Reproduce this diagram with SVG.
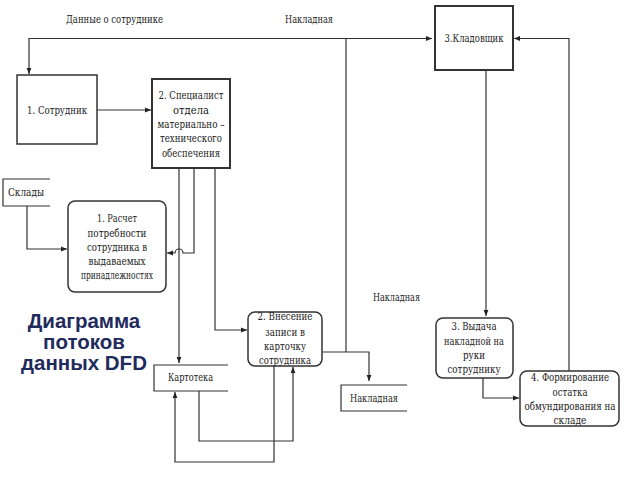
<svg xmlns="http://www.w3.org/2000/svg" width="640" height="480" viewBox="0 0 640 480">
<defs>
<marker id="arr" viewBox="0 0 10 10" refX="10" refY="5" markerWidth="6" markerHeight="6" orient="auto" markerUnits="userSpaceOnUse">
<path d="M0,1 L10,5 L0,9 z" fill="#222"/>
</marker>
<style>
.box{fill:#fff;stroke:#333;stroke-width:1.5}
.ln{fill:none;stroke:#333;stroke-width:1.2}
.t{font-size:11px;fill:#222;text-anchor:middle}
.tl{font-size:11px;fill:#222}
.title{font-size:20.5px;font-weight:bold;fill:#1f2b5c;text-anchor:middle}
</style>
</defs>
<rect width="640" height="480" fill="#fff"/>

<g id="connectors">
<path class="ln" d="M432,38.5 H29 V74" marker-end="url(#arr)"/>
<path class="ln" d="M346,38.5 H432" marker-end="url(#arr)"/>
<path class="ln" d="M97,110 H151" marker-end="url(#arr)"/>
<path class="ln" d="M569,371 V38.5 H514" marker-end="url(#arr)"/>
<path class="ln" d="M486,70 V316" marker-end="url(#arr)"/>
<path class="ln" d="M483,378 V398 H519" marker-end="url(#arr)"/>
<path class="ln" d="M346,38.5 V352"/>
<path class="ln" d="M322,352 H369 V381" marker-end="url(#arr)"/>
<path class="ln" d="M27,206 V249 H67" marker-end="url(#arr)"/>
<path class="ln" d="M194,168 V253 H183 A4,4 0 0 0 175,253 H167" marker-end="url(#arr)"/>
<path class="ln" d="M179,168 V363" marker-end="url(#arr)"/>
<path class="ln" d="M215,168 V330 H247" marker-end="url(#arr)"/>
<path class="ln" d="M199,391 V441 H293 V367" marker-end="url(#arr)"/>
<path class="ln" d="M274,366 V462 H175 V392" marker-end="url(#arr)"/>
</g>

<g font-family="'DejaVu Serif Condensed', 'DejaVu Serif', serif">
<g id="lbl-data"><text class="tl" x="66" y="23" textLength="97" lengthAdjust="spacingAndGlyphs">Данные о сотруднике</text></g>
<g id="lbl-nakl1"><text class="tl" x="285" y="23" textLength="48" lengthAdjust="spacingAndGlyphs">Накладная</text></g>
<g id="lbl-nakl2"><text class="tl" x="373" y="301" textLength="47" lengthAdjust="spacingAndGlyphs">Накладная</text></g>

<g id="n-sotrudnik">
<rect class="box" x="17" y="75" width="80" height="69"/>
<text class="t" x="57" y="114" textLength="60" lengthAdjust="spacingAndGlyphs">1. Сотрудник</text>
</g>

<g id="n-specialist">
<rect class="box" x="152" y="79" width="78" height="89" style="stroke-width:2"/>
<text class="t" x="191" y="99" textLength="65" lengthAdjust="spacingAndGlyphs">2. Специалист</text>
<text class="t" x="191" y="114" textLength="36" lengthAdjust="spacingAndGlyphs">отдела</text>
<text class="t" x="191" y="128" textLength="67" lengthAdjust="spacingAndGlyphs">материально –</text>
<text class="t" x="191" y="142" textLength="62" lengthAdjust="spacingAndGlyphs">технического</text>
<text class="t" x="191" y="157" textLength="58" lengthAdjust="spacingAndGlyphs">обеспечения</text>
</g>

<g id="n-kladovshik">
<rect class="box" x="435" y="6" width="78" height="64" style="stroke-width:2"/>
<text class="t" x="474" y="42" textLength="59" lengthAdjust="spacingAndGlyphs">3.Кладовщик</text>
</g>

<g id="s-sklady">
<path class="ln" d="M50,179 H3 V206 H50"/>
<text class="tl" x="8" y="196" textLength="36" lengthAdjust="spacingAndGlyphs">Склады</text>
</g>

<g id="n-raschet">
<rect class="box" x="68" y="201" width="98" height="91" rx="7"/>
<text class="t" x="117" y="222" textLength="40" lengthAdjust="spacingAndGlyphs">1. Расчет</text>
<text class="t" x="117" y="237" textLength="59" lengthAdjust="spacingAndGlyphs">потребности</text>
<text class="t" x="117" y="251" textLength="60" lengthAdjust="spacingAndGlyphs">сотрудника в</text>
<text class="t" x="117" y="265" textLength="57" lengthAdjust="spacingAndGlyphs">выдаваемых</text>
<text class="t" x="117" y="279" textLength="72" lengthAdjust="spacingAndGlyphs">принадлежностях</text>
</g>

<g id="n-vnesenie">
<rect class="box" x="248" y="312" width="74" height="54" rx="7"/>
<text class="t" x="285" y="320" textLength="55" lengthAdjust="spacingAndGlyphs">2. Внесение</text>
<text class="t" x="285" y="336" textLength="40" lengthAdjust="spacingAndGlyphs">записи в</text>
<text class="t" x="285" y="350" textLength="42" lengthAdjust="spacingAndGlyphs">карточку</text>
<text class="t" x="285" y="364" textLength="52" lengthAdjust="spacingAndGlyphs">сотрудника</text>
</g>

<g id="s-kartoteka">
<path class="ln" d="M228,365 H154 V391 H228"/>
<text class="tl" x="168" y="381" textLength="45" lengthAdjust="spacingAndGlyphs">Картотека</text>
</g>

<g id="s-nakladnaya">
<path class="ln" d="M407,385 H341 V411 H407"/>
<text class="tl" x="350" y="402" textLength="48" lengthAdjust="spacingAndGlyphs">Накладная</text>
</g>

<g id="n-vydacha">
<rect class="box" x="436" y="318" width="77" height="60" rx="7"/>
<text class="t" x="474" y="330" textLength="45" lengthAdjust="spacingAndGlyphs">3. Выдача</text>
<text class="t" x="474" y="345" textLength="60" lengthAdjust="spacingAndGlyphs">накладной на</text>
<text class="t" x="474" y="359" textLength="22" lengthAdjust="spacingAndGlyphs">руки</text>
<text class="t" x="474" y="373" textLength="53" lengthAdjust="spacingAndGlyphs">сотруднику</text>
</g>

<g id="n-formirovanie">
<rect class="box" x="520" y="371" width="99" height="55" rx="7"/>
<text class="t" x="570" y="381" textLength="78" lengthAdjust="spacingAndGlyphs">4. Формирование</text>
<text class="t" x="570" y="396" textLength="35" lengthAdjust="spacingAndGlyphs">остатка</text>
<text class="t" x="570" y="410" textLength="91" lengthAdjust="spacingAndGlyphs">обмундирования на</text>
<text class="t" x="570" y="424" textLength="33" lengthAdjust="spacingAndGlyphs">складе</text>
</g>
</g>

<g id="title" font-family="'Liberation Sans', Arial, sans-serif">
<text class="title" x="84" y="328">Диаграмма</text>
<text class="title" x="84" y="349">потоков</text>
<text class="title" x="84" y="370">данных DFD</text>
</g>
</svg>
